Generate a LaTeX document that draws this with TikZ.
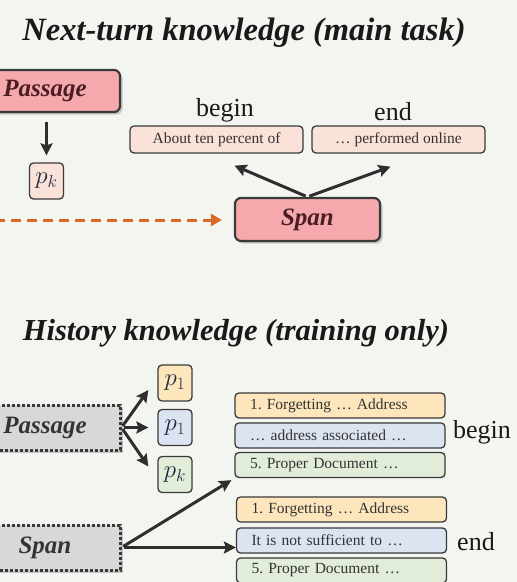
\documentclass[tikz,border=0pt]{standalone}
\usepackage{fontspec}
\setmainfont{Liberation Serif}
\usetikzlibrary{arrows.meta,shadows,calc}
\definecolor{bg}{HTML}{F3F6F0}
\definecolor{pinkf}{HTML}{F5A9AC}
\definecolor{peach}{HTML}{FBE2D8}
\definecolor{orangef}{HTML}{FDE6BC}
\definecolor{bluef}{HTML}{DCE4F2}
\definecolor{greenf}{HTML}{E1ECD9}
\definecolor{grayf}{HTML}{D8D8D8}
\definecolor{edge}{HTML}{3A3A3A}
\definecolor{dashor}{HTML}{D8692A}
\definecolor{maroon}{HTML}{4A1E22}
\definecolor{navy}{HTML}{1F2A44}
\begin{document}
\begin{tikzpicture}[x=1pt,y=-1pt,
  title/.style={font=\bfseries\itshape, text=black!90, inner sep=0},
  lab/.style={font=\fontsize{26}{28}\selectfont, text=black!90, inner sep=0},
  bigbox/.style={draw=edge, line width=2.2pt, rounded corners=6pt, fill=pinkf,
     drop shadow={shadow xshift=2.5pt, shadow yshift=-2.5pt, opacity=0.4},
     font=\fontsize{25}{28}\selectfont\bfseries\itshape, text=maroon, inner sep=0},
  dotbox/.style={draw=edge, line width=3pt, dash pattern=on 3pt off 2pt, fill=grayf,
     drop shadow={shadow xshift=2.5pt, shadow yshift=-2.5pt, opacity=0.4},
     font=\fontsize{25}{28}\selectfont\bfseries\itshape, text=edge!90!black, inner sep=0},
  pbox/.style={draw=edge, line width=1.3pt, rounded corners=4pt, minimum width=34pt, minimum height=36pt,
     font=\fontsize{23}{25}\selectfont, text=navy, inner sep=0},
  sbox/.style={draw=edge, line width=1.3pt, rounded corners=4pt, fill=peach, minimum width=173pt, minimum height=27pt,
     font=\fontsize{15.5}{17}\selectfont, text=black!80, inner sep=0},
  lbox/.style={draw=edge, line width=1.3pt, rounded corners=4pt, minimum width=210pt, minimum height=25pt,
     font=\fontsize{15.5}{17}\selectfont, text=black!80, inner sep=0, text width=180pt, align=left},
  arr/.style={draw=edge!80!black, line width=3pt, -{Stealth[length=12pt,width=12pt,inset=2pt]}},
  darr/.style={draw=dashor, line width=3pt, dash pattern=on 10pt off 6pt, -{Triangle[length=11pt,width=12pt]}}
]
\useasboundingbox (0,0) rectangle (517,582);
\clip (0,0) rectangle (517,582);
\fill[bg] (0,0) rectangle (517,582);

% ---------- top part ----------
\node[title, font=\fontsize{32.5}{36}\selectfont\bfseries\itshape] (t1) at (244,33) {Next-turn knowledge (main task)};
\node[bigbox, minimum width=150pt, minimum height=42pt] (passA) at (45,91) {Passage};
\node[pbox, fill=peach] (pk) at (46.5,181) {$p_k$};
\node[lab] (lbeg) at (225,110) {begin};
\node[lab] (lend) at (393,112) {end};
\node[sbox] (sb) at (216.5,139.5) {About ten percent of};
\node[sbox] (se) at (398.5,139.5) {\dots\ performed online};
\node[bigbox, minimum width=145pt, minimum height=43pt] (spanA) at (307.5,219.5) {Span};
\coordinate (dstart) at (-5,220);

\draw[arr, shorten <=9pt, shorten >=7pt] (passA.south -| pk.north) -- (pk.north);
\draw[arr, shorten <=2pt] (spanA.north) -- ($(sb.south)+(18,12)$);
\draw[arr, shorten <=2pt] (spanA.north) -- ($(se.south)+(-8,13)$);
\draw[darr, shorten >=12pt] (dstart) -- (dstart -| spanA.west);

% ---------- bottom part ----------
\node[title, font=\fontsize{30.5}{34}\selectfont\bfseries\itshape] (t2) at (236,333) {History knowledge (training only)};
\node[dotbox, minimum width=150pt, minimum height=45pt] (passB) at (45,427.5) {Passage};
\node[dotbox, minimum width=150pt, minimum height=45pt] (spanB) at (45,547.5) {Span};
\node[pbox, fill=orangef] (p1a) at (175,383) {$p_1$};
\node[pbox, fill=bluef] (p1b) at (175,427.5) {$p_1$};
\node[pbox, fill=greenf] (pkb) at (175,474.5) {$p_k$};

\node[lbox, fill=orangef] (b1) at (340,405.5) {1.\ Forgetting \dots\ Address};
\node[lbox, fill=bluef] (b2) at (340,435.5) {\dots\ address associated \dots};
\node[lbox, fill=greenf] (b3) at (340,465) {5.\ Proper Document \dots};
\node[lab] (blab) at (482,432) {begin};

\node[lbox, fill=orangef] (e1) at (341.5,509.5) {1.\ Forgetting \dots\ Address};
\node[lbox, fill=bluef] (e2) at (341.5,540.5) {It is not sufficient to \dots};
\node[lbox, fill=greenf] (e3) at (341.5,570.5) {5.\ Proper Document \dots};
\node[lab] (elab) at (476,542) {end};

\draw[arr, shorten <=2pt] (passB.east) -- ($(p1a.west)+(-9,7)$);
\draw[arr, shorten <=2pt] (passB.east) -- ($(p1b.west)+(-9,0)$);
\draw[arr, shorten <=2pt] (passB.east) -- ($(pkb.west)+(-9,-8)$);
\draw[arr, shorten <=2pt] (spanB.east) -- ($(b3.south west)+(-3,2)$);
\draw[arr, shorten <=2pt] (spanB.east) -- (spanB.east -| e2.west);
\end{tikzpicture}
\end{document}
